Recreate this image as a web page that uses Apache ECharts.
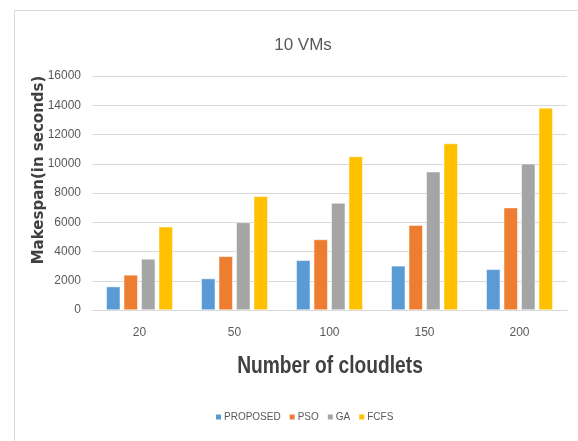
<!DOCTYPE html>
<html>
<head>
<meta charset="utf-8">
<script src="https://cdn.jsdelivr.net/npm/echarts@6/dist/echarts.min.js"></script>
<style>
  html, body { margin: 0; padding: 0; background: #fff; }
  #chart { width: 578px; height: 441px; }
</style>
</head>
<body>
<div id="chart"></div>
<script>
// cloudlet counts on the x axis
var categories = ['20', '50', '100', '150', '200'];
// makespan values (seconds)
var proposed = [1600, 2150, 3400, 3020, 2780];
var pso = [2400, 3670, 4820, 5800, 7000];
var ga = [3490, 5990, 7310, 9450, 10000];
var fcfs = [5690, 7770, 10500, 11380, 13820];

var FONT = "'Liberation Sans', sans-serif";
var colors = ['#5b9bd5', '#ed7d31', '#a5a5a5', '#ffc000'];

var chart = echarts.init(document.getElementById('chart'));

function bar(name, data) {
  return {
    name: name,
    type: 'bar',
    data: data,
    barWidth: 14,
    barGap: '25%',
    itemStyle: { borderColor: '#fff', borderWidth: 0.5 }
  };
}

var option = {
  animation: false,
  color: colors,
  title: {
    text: '10 VMs',
    left: 298,
    top: 32,
    textAlign: 'center',
    textStyle: { fontFamily: FONT, fontSize: 17, fontWeight: 'normal', color: '#595959' }
  },
  legend: {
    bottom: 14,
    left: 209,
    itemWidth: 7,
    itemHeight: 7,
    itemGap: 7,
    icon: 'rect',
    textStyle: { fontFamily: FONT, fontSize: 10, color: '#595959', padding: [0, 0, 0, -3] }
  },
  grid: { left: 92, right: 11, top: 76, bottom: 131, containLabel: false },
  xAxis: {
    type: 'category',
    data: categories,
    axisLine: { lineStyle: { color: '#d9d9d9' } },
    axisTick: { show: false },
    axisLabel: { fontFamily: FONT, fontSize: 12, color: '#595959', margin: 17 }
  },
  yAxis: {
    type: 'value',
    min: 0,
    max: 16000,
    interval: 2000,
    axisLine: { show: false },
    axisTick: { show: false },
    axisLabel: {
      fontFamily: FONT, fontSize: 12, color: '#595959', margin: 11,
      formatter: function (v) { return String(v); }
    },
    splitLine: { lineStyle: { color: '#d9d9d9' } }
  },
  graphic: [
    {
      type: 'rect',
      shape: { x: 14.5, y: 10.5, width: 600, height: 500 },
      style: { fill: 'none', stroke: '#d9d9d9', lineWidth: 1 },
      silent: true,
      z: -1
    },
    {
      type: 'text',
      x: 39,
      y: 170,
      rotation: Math.PI / 2,
      style: {
        text: 'Makespan(in seconds)',
        fontFamily: "'DejaVu Sans', sans-serif",
        fontSize: 15,
        fontWeight: 'bold',
        fill: '#404040',
        align: 'center',
        verticalAlign: 'middle'
      }
    },
    {
      type: 'text',
      x: 330,
      y: 366,
      scaleX: 0.8,
      style: {
        text: 'Number of cloudlets',
        fontFamily: FONT,
        fontSize: 24,
        fontWeight: 'bold',
        fill: '#404040',
        align: 'center',
        verticalAlign: 'middle'
      }
    }
  ],
  series: [
    bar('PROPOSED', proposed),
    bar('PSO', pso),
    bar('GA', ga),
    bar('FCFS', fcfs)
  ]
};

chart.setOption(option);
</script>
</body>
</html>
